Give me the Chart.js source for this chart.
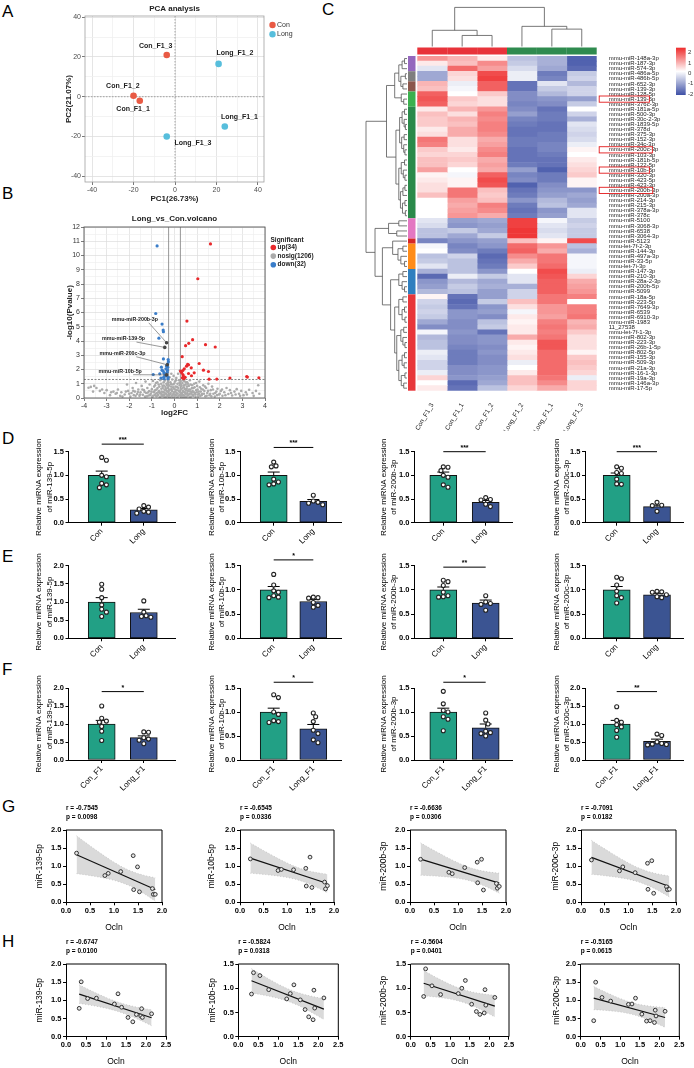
<!DOCTYPE html>
<html><head><meta charset="utf-8"><title>Figure</title>
<script src="https://cdn.jsdelivr.net/npm/chart.js@4.4.1/dist/chart.umd.min.js"></script>
<style>
html,body{margin:0;padding:0;background:#fff}
#root{position:relative;width:694px;height:1068px;overflow:hidden;background:#fff}
#root canvas{position:absolute;left:0;top:0}
.pl{position:absolute;font:17px/17px 'Liberation Sans',Arial,sans-serif;color:#000}
</style></head><body><div id="root">
<div class="pl" style="left:2px;top:3px">A</div>
<div class="pl" style="left:2px;top:185px">B</div>
<div class="pl" style="left:322px;top:1px">C</div>
<div class="pl" style="left:2px;top:430px">D</div>
<div class="pl" style="left:2px;top:548px">E</div>
<div class="pl" style="left:2px;top:661px">F</div>
<div class="pl" style="left:2px;top:798px">G</div>
<div class="pl" style="left:2px;top:933px">H</div>
</div>
<script>
// ================= DATA =================
// A: PCA
const pcaSamples=['Con_F1_1','Con_F1_2','Con_F1_3','Long_F1_1','Long_F1_2','Long_F1_3'];
const pcaGroup=['Con','Con','Con','Long','Long','Long'];
const pcaPC1=[-17,-20,-4,24,21,-4];
const pcaPC2=[-2,0.5,21,-15,16.5,-20];
const pcaTicks=[-40,-20,0,20,40];

// B: volcano
const volcUp=[[1.59,10.81],[1.03,8.37],[0.55,5.4],[0.8,4.09],[0.63,3.84],[0.49,3.67],[1.37,3.74],[1.8,3.58],[0.34,2.9],[1.09,2.42],[0.58,2.37],[0.62,2.33],[0.53,2.23],[0.74,2.12],[0.43,2.05],[0.37,1.93],[1.28,1.95],[1.5,1.86],[0.27,1.88],[0.31,1.79],[0.87,1.77],[0.62,1.72],[0.37,1.65],[0.39,1.55],[0.75,1.56],[0.35,1.42],[0.47,1.45],[2.45,1.4],[3.19,1.51],[3.22,1.47],[3.73,1.42],[1.87,1.33],[1.53,1.32],[0.41,1.35]];
const volcDown=[[-0.77,10.67],[-0.83,5.93],[-0.55,5.19],[-0.5,4.77],[-0.49,4.65],[-0.69,4.2],[-0.49,2.74],[-0.28,2.7],[-0.3,2.4],[-0.3,2.16],[-0.58,2.16],[-0.5,1.88],[-0.65,1.7],[-0.46,1.74],[-0.94,1.65],[-0.48,1.45],[-0.28,1.45],[-0.46,1.35],[-0.29,1.35],[-0.38,2.05],[-0.55,1.95],[-0.4,1.55],[-0.33,1.8],[-0.6,1.4],[-0.27,2.55],[-0.36,2.25],[-0.42,1.6],[-0.31,1.95]];
const volcNosig=[[-3.8,0.72],[-3.7,0.78],[-3.55,0.85],[-3.45,0.7],[-3.3,0.5],[-3.1,0.35],[-3.0,0.55],[-2.85,0.2],[-2.7,0.45],[-2.6,0.3],[-2.5,0.6],[-2.4,0.15],[-2.35,0.4],[-2.2,0.25],[-2.1,0.95],[-2.05,0.5],[-1.95,0.1],[-1.9,0.35],[-1.85,0.7],[-1.8,0.2],[-1.75,0.45],[-1.7,1.05],[-1.65,0.28],[-1.6,0.6],[-1.55,0.15],[-1.5,0.4],[-1.45,0.85],[-1.4,0.22],[-1.35,0.55],[-1.3,0.1],[-1.28,1.15],[-1.25,0.35],[-1.2,0.7],[-1.15,0.18],[-1.12,0.48],[-1.1,0.95],[-1.05,0.3],[-1.0,0.62],[-0.98,0.08],[-0.95,1.2],[-0.92,0.4],[-0.9,0.8],[-0.88,0.2],[-0.85,0.55],[-0.82,1.05],[-0.8,0.12],[-0.78,0.35],[-0.75,0.7],[-0.72,0.25],[-0.7,0.95],[-0.68,0.5],[-0.65,0.05],[-0.63,1.25],[-0.6,0.3],[-0.58,0.65],[-0.55,0.15],[-0.53,0.85],[-0.5,0.42],[-0.48,1.1],[-0.46,0.22],[-0.44,0.6],[-0.42,0.03],[-0.4,0.78],[-0.38,0.32],[-0.36,1.0],[-0.34,0.5],[-0.32,0.12],[-0.3,0.7],[-0.29,1.2],[-0.28,0.4],[-0.25,0.9],[-0.24,0.2],[-0.22,1.45],[-0.21,0.6],[-0.2,0.05],[-0.18,1.1],[-0.17,0.35],[-0.15,0.8],[-0.14,1.7],[-0.12,0.15],[-0.11,0.5],[-0.1,1.3],[-0.08,0.02],[-0.07,0.95],[-0.05,0.3],[-0.04,1.55],[-0.02,0.65],[0.0,0.1],[0.02,1.15],[0.03,0.45],[0.05,0.8],[0.06,0.2],[0.08,1.4],[0.1,0.55],[0.11,0.04],[0.13,1.0],[0.14,0.3],[0.16,1.7],[0.17,0.7],[0.19,0.15],[0.2,1.25],[0.21,0.45],[0.23,0.9],[0.24,1.95],[0.25,0.25],[0.27,1.15],[0.28,0.6],[0.3,0.1],[0.31,0.85],[0.33,0.35],[0.35,1.05],[0.37,0.5],[0.39,0.2],[0.41,0.75],[0.43,1.2],[0.45,0.4],[0.47,0.05],[0.49,0.95],[0.52,0.3],[0.54,0.65],[0.56,1.1],[0.58,0.18],[0.6,0.5],[0.63,0.85],[0.66,0.28],[0.68,1.25],[0.7,0.6],[0.73,0.1],[0.76,0.4],[0.78,0.9],[0.81,0.22],[0.84,0.7],[0.87,1.0],[0.9,0.35],[0.93,0.08],[0.96,0.55],[1.0,0.85],[1.03,0.25],[1.07,0.45],[1.1,1.15],[1.14,0.15],[1.18,0.65],[1.22,0.3],[1.27,0.9],[1.32,0.5],[1.36,0.12],[1.4,0.7],[1.45,0.35],[1.5,1.0],[1.55,0.2],[1.6,0.55],[1.66,0.8],[1.72,0.3],[1.78,0.1],[1.85,0.45],[1.9,0.65],[1.97,0.25],[2.05,0.5],[2.12,0.15],[2.2,0.4],[2.3,0.7],[2.38,0.28],[2.45,0.55],[2.55,0.18],[2.65,0.45],[2.75,0.62],[2.85,0.3],[2.95,0.5],[3.05,0.2],[3.15,0.4],[3.3,0.58],[3.45,0.35],[3.6,0.5],[3.7,0.9],[3.75,0.3],
[-0.95,0.15],[-0.9,0.45],[-0.86,0.9],[-0.83,0.3],[-0.79,0.6],[-0.76,1.1],[-0.74,0.18],[-0.71,0.42],[-0.67,0.8],[-0.64,0.35],[-0.62,0.1],[-0.59,1.0],[-0.57,0.45],[-0.54,0.25],[-0.52,0.7],[-0.49,0.12],[-0.47,0.88],[-0.45,0.38],[-0.43,1.22],[-0.41,0.55],[-0.39,0.08],[-0.37,0.65],[-0.35,0.25],[-0.33,0.92],[-0.31,0.45],[-0.3,1.05],[-0.28,0.18],[-0.27,0.8],[-0.26,1.28],[-0.23,0.52],[-0.19,0.28],[-0.16,0.98],[-0.13,0.62],[-0.09,0.2],[-0.06,0.75],[-0.03,0.4],[-0.01,1.02],[0.01,0.25],[0.04,0.6],[0.07,1.25],[0.09,0.35],[0.12,0.78],[0.15,0.1],[0.18,0.52],[0.22,1.05],[0.26,0.4],[0.29,0.95],[0.32,0.22],[0.34,0.68],[0.36,1.25],[0.38,0.05],[0.4,0.42],[0.42,0.9],[0.44,0.15],[0.46,0.62],[0.48,0.3],[0.5,1.1],[0.51,0.52],[0.53,0.08],[0.55,0.8],[0.57,0.35],[0.59,1.0],[0.61,0.2],[0.64,0.6],[0.67,0.05],[0.69,0.45],[0.71,0.95],[0.74,0.3],[0.77,0.7],[0.8,0.5],[0.83,0.15],[0.86,0.4],[0.89,0.75],[0.92,0.25],[0.95,1.05],[0.98,0.4],[1.02,0.6],[1.05,0.1],[1.09,0.3],[1.12,0.75],[1.16,0.45],[1.2,0.2],[1.25,0.6],[1.3,0.3],[1.35,0.8],[1.42,0.15],[1.48,0.5],[1.58,0.3],[1.63,0.12],[1.7,0.6],[1.8,0.35],[1.88,0.2],[2.0,0.3],[2.1,0.6],[2.25,0.2],[2.5,0.35],[2.7,0.25],[2.9,0.15],[3.2,0.25],[3.5,0.15],[-1.02,0.45],[-1.08,0.2],[-1.18,0.38],[-1.22,0.12],[-1.32,0.42],[-1.42,0.6],[-1.52,0.25],[-1.62,0.42],[-1.72,0.15],[-1.82,0.5],[-2.0,0.3],[-2.15,0.45],[-2.3,0.1],[-2.55,0.35],[-2.8,0.4],[-3.2,0.6],[-3.6,0.45]];
const volcLabelNames=['mmu-miR-200b-3p','mmu-miR-139-5p','mmu-miR-200c-3p','mmu-miR-10b-5p'];
const volcLabelPts=[[-0.35,3.88],[-0.43,3.55],[-0.32,2.33],[-0.35,1.62]];
const volcLegend=['up(34)','nosig(1206)','down(32)'];
const volcFcCut=0.26, volcPCut=1.3;

// C: heatmap
const hmCols=['Con_F1_3','Con_F1_1','Con_F1_2','Long_F1_2','Long_F1_1','Long_F1_3'];
const hmGroups=['Con','Con','Con','Long','Long','Long'];
const hmRows=['mmu-miR-148a-3p','mmu-miR-187-3p','mmu-miR-574-3p','mmu-miR-486a-5p','mmu-miR-486b-5p','mmu-miR-652-3p','mmu-miR-139-3p','mmu-miR-128-5p','mmu-miR-139-5p','mmu-miR-376c-3p','mmu-miR-181a-5p','mmu-miR-500-3p','mmu-miR-30c-2-3p','mmu-miR-1839-5p','mmu-miR-378d','mmu-miR-375-3p','mmu-miR-152-3p','mmu-miR-34c-3p','mmu-miR-200c-3p','mmu-miR-103-3p','mmu-miR-181b-5p','mmu-miR-122-5p','mmu-miR-10b-5p','mmu-miR-320-3p','mmu-miR-423-5p','mmu-miR-423-3p','mmu-miR-200b-3p','mmu-miR-200a-3p','mmu-miR-214-3p','mmu-miR-215-3p','mmu-miR-378a-3p','mmu-miR-378c','mmu-miR-5100','mmu-miR-3068-3p','mmu-miR-6538','mmu-miR-3064-3p','mmu-miR-5123','mmu-let-7f-2-3p','mmu-miR-144-3p','mmu-miR-497a-3p','mmu-miR-33-5p','mmu-let-7i-3p','mmu-miR-147-3p','mmu-miR-210-3p','mmu-miR-28a-2-3p','mmu-miR-200b-5p','mmu-miR-5099','mmu-miR-18a-5p','mmu-miR-223-5p','mmu-miR-7649-3p','mmu-miR-6539','mmu-miR-6910-3p','mmu-miR-1983','11_27538','mmu-let-7f-1-3p','mmu-miR-802-3p','mmu-miR-223-3p','mmu-miR-26b-1-5p','mmu-miR-802-5p','mmu-miR-155-3p','mmu-miR-509-3p','mmu-miR-21a-3p','mmu-miR-16-1-3p','mmu-miR-19a-3p','mmu-miR-146a-3p','mmu-miR-17-5p'];
const hmVals=[[1.0,0.7,0.2,-0.7,-0.9,-1.8],[0.2,0.6,1.1,-0.6,-0.9,-1.8],[-0.3,1.4,0.9,-0.4,-1.0,-1.7],[-1.0,0.4,1.7,-0.2,-1.5,-0.6],[-1.0,0.3,1.8,-0.2,-1.4,-0.5],[0.7,-0.2,1.5,-1.6,-0.3,-0.8],[0.6,-0.1,1.5,-1.6,-0.6,-0.5],[1.5,0.0,0.5,-1.3,-0.8,-0.5],[1.6,0.5,0.3,-1.3,-1.2,-1.1],[1.5,0.4,0.3,-1.4,-1.3,-0.6],[0.2,0.7,1.0,-1.3,-1.6,0.0],[0.6,0.3,1.2,-1.1,-1.5,-0.5],[0.5,0.7,1.1,-1.4,-1.5,-0.9],[0.5,0.6,1.2,-1.5,-1.6,-0.3],[0.2,0.8,1.2,-1.6,-1.6,-0.4],[0.3,0.8,1.1,-1.6,-1.5,-0.5],[1.3,0.3,0.8,-1.5,-1.5,-0.4],[1.2,0.3,0.9,-1.5,-1.4,-0.2],[0.5,0.2,1.1,-1.6,-1.4,0.1],[0.4,0.4,1.2,-1.6,-1.5,0.0],[0.6,0.5,0.8,-1.6,-1.6,0.2],[0.6,0.4,0.9,-1.5,-1.6,0.3],[0.9,0.0,0.8,-1.1,-1.8,0.4],[0.1,-0.1,1.5,-1.4,-1.5,0.5],[0.2,0.1,1.7,-1.3,-1.5,0.1],[0.3,0.1,1.6,-1.8,-1.3,0.1],[0.3,1.3,0.6,-1.6,-1.2,-1.2],[0.6,1.3,0.5,-1.5,-1.1,-1.0],[0.0,0.9,0.6,-1.2,-0.8,-1.1],[0.0,0.8,1.2,-1.5,-0.7,-1.0],[0.0,0.9,1.1,-1.6,-1.2,-0.3],[0.0,1.0,0.8,-1.5,-1.1,-0.3],[-0.3,-1.1,-1.0,1.8,-0.1,-0.6],[-0.4,-1.2,-1.1,1.8,-0.3,-0.5],[-0.7,-0.6,-1.0,1.9,-0.4,-0.6],[-0.7,-1.0,-0.6,1.9,-0.3,-0.6],[-1.4,-1.2,-1.1,0.6,0.1,1.7],[-0.1,-1.4,-1.2,1.4,1.0,-0.7],[0.0,-1.3,-1.5,1.5,0.8,-0.9],[-0.7,-0.5,-1.7,1.1,1.3,-0.1],[-0.6,-0.7,-1.6,0.8,1.3,-0.1],[-0.3,-0.7,-1.5,0.5,1.4,-0.1],[-0.9,-0.7,-1.2,0.0,1.7,-0.2],[-1.7,-0.2,-0.6,-0.3,1.6,0.4],[-1.2,-0.8,-1.0,-0.3,1.5,0.8],[-1.1,-0.6,-0.9,-0.9,1.5,0.9],[-0.8,-0.7,-1.1,-0.5,1.5,1.0],[0.1,-1.6,-1.1,-0.5,1.3,1.2],[-0.5,-1.7,-0.6,0.6,1.3,0.0],[-0.6,-1.6,-1.2,0.3,1.0,1.2],[-0.5,-1.2,-1.1,-0.1,1.0,1.2],[-0.6,-1.2,-1.3,0.2,0.9,1.3],[-1.0,-1.3,-0.7,0.1,1.2,0.7],[-1.3,-1.3,-0.6,0.2,1.3,0.8],[-0.1,-1.2,-1.6,0.2,1.2,0.5],[-0.8,-1.3,-1.2,0.8,1.3,0.3],[-0.7,-1.3,-1.2,0.2,1.6,0.3],[-0.7,-1.4,-1.3,0.1,1.6,0.3],[-0.2,-1.5,-1.2,0.2,1.4,0.1],[-0.3,-1.5,-1.3,0.3,1.4,0.5],[-0.5,-1.5,-1.3,-0.2,1.4,0.6],[-0.5,-1.3,-1.2,0.0,1.4,0.5],[-0.2,-1.3,-1.2,0.2,1.4,0.4],[0.4,-1.2,-1.1,0.6,1.3,-0.2],[0.0,-1.7,-1.0,0.6,1.1,0.4],[0.2,-1.6,-0.7,0.4,0.8,0.4]];
const hmClusterSizes=[3,2,2,3,22,4,1,5,5,19];
const hmBoxed=['mmu-miR-139-5p','mmu-miR-200c-3p','mmu-miR-10b-5p','mmu-miR-200b-3p'];
const hmLegendTicks=[2,1,0,-1,-2];
const hmColTree=[0.99,[0.41,0,[0.28,1,2]],[0.51,3,[0.44,4,5]]];
const hmRowTree=[1.0,
 [0.5,
  [0.3,[0.2,[0.12,[0.06,0,1],2],[0.15,[0.04,3,4],[0.1,5,6]]],[0.14,7,[0.08,8,9]]],
  [0.27,[0.18,[0.12,[0.06,10,11],[0.07,12,[0.04,13,14]]],[0.13,[0.07,15,16],[0.08,17,[0.05,18,19]]]],
        [0.2,[0.14,[0.06,20,21],[0.09,22,[0.05,23,24]]],[0.16,[0.1,[0.05,25,26],27],[0.11,[0.05,28,29],[0.04,30,31]]]]]],
 [0.78,
  [0.45,[0.2,32,33],[0.25,34,35]],
  [0.6,[0.35,36,[0.22,[0.1,37,38],[0.15,39,[0.06,40,41]]]],
       [0.4,[0.2,[0.1,42,43],[0.12,44,[0.06,45,46]]],
            [0.3,[0.2,[0.1,47,48],[0.12,[0.06,49,50],[0.05,51,52]]],[0.25,[0.15,[0.08,53,54],[0.1,55,[0.05,56,57]]],[0.2,[0.12,[0.06,58,59],[0.07,60,61]],[0.14,[0.05,62,63],[0.08,64,65]]]]]]]]];

// D/E/F: qPCR bars
const genes=['miR-139-5p','miR-10b-5p','miR-200b-3p','miR-200c-3p'];
const dLabels=['Con','Long'], eLabels=['Con','Long'], fLabels=['Con_F1','Long_F1'];
const dCon=[[1.38,1.32,1.0,0.97,0.83,0.80,0.74],[1.28,1.20,1.18,0.92,0.86,0.82,0.80],[1.18,1.17,1.10,1.00,0.96,0.80,0.75],[1.18,1.15,1.06,1.04,0.92,0.82,0.81]];
const dLong=[[0.36,0.33,0.29,0.24,0.22,0.20],[0.58,0.46,0.43,0.41,0.38],[0.53,0.49,0.48,0.39,0.34],[0.43,0.37,0.36,0.24]];
const dMean=[[1.0,0.27],[1.0,0.45],[1.0,0.43],[1.0,0.34]];
const dSem=[[0.09,0.03],[0.07,0.04],[0.07,0.04],[0.05,0.03]];
const dSig=['***','***','***','***'];
const dYmax=[1.5,1.5,1.5,1.5];
const eCon=[[1.49,1.35,1.12,0.92,0.80,0.72,0.60],[1.32,1.10,0.98,0.95,0.88,0.85,0.84],[1.20,1.17,1.09,0.95,0.88,0.86,0.85],[1.26,1.23,1.10,0.97,0.88,0.84,0.73]];
const eLong=[[1.03,0.72,0.62,0.60,0.58],[0.85,0.84,0.83,0.74,0.68,0.64],[0.88,0.75,0.72,0.70,0.58],[0.97,0.96,0.95,0.90,0.86,0.84]];
const eMean=[[1.0,0.71],[1.0,0.76],[1.0,0.73],[1.0,0.90]];
const eSem=[[0.12,0.09],[0.07,0.04],[0.06,0.06],[0.07,0.03]];
const eSig=['','*','**',''];
const eYmax=[2.0,1.5,1.5,1.5];
const fCon=[[1.50,1.16,1.08,1.05,0.93,0.80,0.54],[1.36,1.30,1.00,0.95,0.82,0.80,0.78],[1.43,1.17,1.03,1.00,0.90,0.85,0.61],[1.48,1.10,1.05,0.98,0.92,0.82,0.63]];
const fLong=[[0.78,0.77,0.62,0.58,0.55,0.45],[0.98,0.90,0.80,0.62,0.55,0.42,0.36],[0.98,0.83,0.75,0.60,0.57,0.55,0.50],[0.72,0.68,0.50,0.46,0.44,0.43,0.42]];
const fMean=[[1.0,0.62],[1.0,0.65],[1.0,0.67],[1.0,0.52]];
const fSem=[[0.10,0.05],[0.08,0.09],[0.08,0.08],[0.10,0.06]];
const fSig=['*','*','*','**'];
const fYmax=[2.0,1.5,1.5,2.0];

// G/H correlations
const gOcln=[0.22,0.81,0.88,1.14,1.40,1.41,1.49,1.53,1.80,1.82,1.86];
const gMir=[[1.36,0.74,0.80,0.85,1.29,0.35,0.98,0.29,0.38,0.22,0.22],[1.20,0.88,0.91,0.90,0.94,0.45,1.25,0.41,0.56,0.37,0.46],[1.19,0.83,0.79,0.96,1.11,0.54,1.19,0.34,0.52,0.39,0.44],[1.17,0.87,0.98,0.82,1.08,0.36,1.15,0.25,0.43,0.35,0.36]];
const gR=['-0.7545','-0.6545','-0.6636','-0.7091'], gP=['0.0098','0.0336','0.0306','0.0182'];
const gYmax=[2.0,2.0,2.0,2.0], gXmax=2.0;
const hOcln=[0.33,0.38,0.54,0.76,1.21,1.30,1.39,1.55,1.67,1.76,1.87,1.89,1.91,2.14];
const hMir=[[0.78,1.51,1.05,1.06,0.90,1.18,0.81,0.53,0.41,0.61,0.57,0.77,0.53,0.63],[0.88,1.32,1.26,0.97,0.78,0.89,1.07,0.76,0.56,0.41,0.35,0.96,0.59,0.80],[0.83,1.40,1.05,0.87,0.89,1.00,1.16,0.67,0.52,0.46,0.49,0.97,0.65,0.81],[0.44,1.50,1.08,0.98,0.89,0.90,1.06,0.62,0.43,0.44,0.39,0.73,0.57,0.70]];
const hR=['-0.6747','-0.5824','-0.5604','-0.5165'], hP=['0.0100','0.0318','0.0401','0.0615'];
const hYmax=[2.0,1.5,1.5,2.0], hXmax=2.5;
const T975={8:2.306,9:2.262,10:2.228,11:2.201,12:2.179,13:2.160};

// ================= STYLE / LAYOUT =================
const FF="'Liberation Sans', Arial, Helvetica, sans-serif";
const C_CON='#E95A44', C_LONG='#57BEDC';
const C_UP='#E8292C', C_DOWN='#3A7DC9', C_NS='#ABABAB', C_LAB='#444';
const C_BAR=['#22A085','#3B5492'];
const C_HM_GRP={Con:'#E8333A',Long:'#2F8B4F'};
const HM_CLUSTER_COLORS=['#9467BD','#7F7F7F','#8C564B','#3BB04E','#2A8A4A','#E377C2','#D62728','#FF8C1A','#2F7FBF','#E8363A'];
const W=694,H=1068;
const barX=[{l:68.5,r:175,c1:101.7,c2:143.8,t1:39,t2:49.5},{l:240,r:341.7,c1:273.7,c2:313.3,t1:211.5,t2:222},{l:414,r:512.7,c1:443.3,c2:485.7,t1:383.5,t2:394},{l:585,r:683.3,c1:616.7,c2:657,t1:556.5,t2:567}];
const rowsY={D:{t:451.7,b:522.7},E:{t:565.7,b:638.3},F:{t:688,b:760}};
const sigYD=[1.66,1.59,1.5,1.5], sigYE=[0,1.62,1.47,0], sigYF=[1.9,1.62,1.62,1.9];
const gX=[{l:66,r:162,tx:39.5},{l:240,r:334,tx:212},{l:410,r:506,tx:383.5},{l:581,r:676,tx:555.5}];
const hX=[{l:66,r:166,tx:40},{l:238.3,r:338.3,tx:213},{l:410.7,r:509,tx:383.5},{l:580.7,r:679.3,tx:556.5}];
const gY={t:830,b:902.3}, hY={t:964,b:1036.7};
const pcaLabelOff={Con_F1_1:[-6.7,8.3],Con_F1_2:[-10.7,-9.7],Con_F1_3:[-11,-9],Long_F1_1:[14.7,-9],Long_F1_2:[16.3,-11.3],Long_F1_3:[26.3,7]};
const volcLabelPos=[[-1.75,5.5],[-2.25,4.15],[-2.3,3.12],[-2.4,1.86]];

Chart.defaults.font.family=FF;
Chart.defaults.color='#000';
const root=document.getElementById('root');
function cnv(){const c=document.createElement('canvas');c.width=W;c.height=H;c.style.width=W+'px';c.style.height=H+'px';root.appendChild(c);return c;}
function pad(l,t,r,b,lw,bh,rw){return{left:l-lw,top:t,right:W-r-rw,bottom:H-b-bh};}
function base(p){return{responsive:false,maintainAspectRatio:false,animation:false,devicePixelRatio:1,events:[],layout:{padding:p},plugins:{legend:{display:false},tooltip:{enabled:false},title:{display:false}}};}
function rng(a,b,s){const o=[];for(let k=0;a+k*s<=b+1e-9;k++)o.push(Math.round((a+k*s)*1000)/1000);return o;}
function fnt(sz,w){return (w||'normal')+' '+sz+'px '+FF;}
function txt(ctx,s,x,y,font,o){o=o||{};ctx.save();ctx.font=font;ctx.fillStyle=o.c||'#000';ctx.textAlign=o.a||'center';ctx.textBaseline=o.b||'middle';ctx.translate(x,y);if(o.r)ctx.rotate(o.r);ctx.fillText(s,0,0);ctx.restore();}
function line(ctx,x0,y0,x1,y1,c,w,dash){ctx.save();ctx.strokeStyle=c;ctx.lineWidth=w;if(dash)ctx.setLineDash(dash);ctx.beginPath();ctx.moveTo(x0,y0);ctx.lineTo(x1,y1);ctx.stroke();ctx.restore();}
function dot(ctx,x,y,r,c){ctx.save();ctx.fillStyle=c;ctx.beginPath();ctx.arc(x,y,r,0,Math.PI*2);ctx.fill();ctx.restore();}
const HP=-Math.PI/2;

// ================= A: PCA =================
(function(){
 const A={l:85,t:16,r:264,b:182};
 const major=v=>pcaTicks.includes(v);
 const sets=['Con','Long'].map(g=>({data:pcaSamples.map((n,i)=>({x:pcaPC1[i],y:pcaPC2[i],n:n,g:pcaGroup[i]})).filter(p=>p.g===g),pointRadius:3.3,pointBackgroundColor:g==='Con'?C_CON:C_LONG,pointBorderWidth:0}));
 const ax=(mn,mx,isX)=>({type:'linear',min:mn,max:mx,afterBuildTicks:s=>{s.ticks=rng(-40,40,10).map(v=>({value:v}));},afterFit:s=>{if(isX)s.height=25;else s.width=25;},
   ticks:{callback:v=>major(v)?String(v):'',autoSkip:false,maxRotation:0,font:{size:7},color:'#4d4d4d',padding:1},
   grid:{color:c=>(c.tick&&major(c.tick.value))?'#dedede':'#f0f0f0',tickColor:c=>(c.tick&&major(c.tick.value))?'#555':'rgba(0,0,0,0)',lineWidth:0.8,tickLength:3},border:{display:false}});
 const o=base(pad(A.l,A.t,A.r,A.b,25,25,0));
 o.scales={x:ax(-43.4,42.9,true),y:ax(-42.9,40.6,false)};
 new Chart(cnv(),{type:'scatter',data:{datasets:sets},options:o,plugins:[{id:'pcadeco',
  beforeDatasetsDraw(ch){const c=ch.ctx,a=ch.chartArea,x0=ch.scales.x.getPixelForValue(0),y0=ch.scales.y.getPixelForValue(0);
   line(c,x0,a.top,x0,a.bottom,'#999',0.9,[1.5,1.5]);line(c,a.left,y0,a.right,y0,'#999',0.9,[1.5,1.5]);},
  afterDraw(ch){const c=ch.ctx,a=ch.chartArea;
   c.save();c.strokeStyle='#a0a0a0';c.lineWidth=0.8;c.strokeRect(a.left,a.top,a.right-a.left,a.bottom-a.top);c.restore();
   ch.data.datasets.forEach((ds,di)=>{ch.getDatasetMeta(di).data.forEach((el,k)=>{const n=ds.data[k].n,off=pcaLabelOff[n];txt(c,n,el.x+off[0],el.y+off[1],fnt(7,'bold'),{c:'#222'});});});
   txt(c,'PCA analysis',(a.left+a.right)/2,9,fnt(8,'bold'),{c:'#222'});
   txt(c,'PC1(26.73%)',(a.left+a.right)/2,199,fnt(8,'bold'),{c:'#222'});
   txt(c,'PC2(21.07%)',69,(a.top+a.bottom)/2,fnt(8,'bold'),{c:'#222',r:HP});
   ['Con','Long'].forEach((g,i)=>{dot(c,272.5,25+i*9.3,3.2,g==='Con'?C_CON:C_LONG);txt(c,g,277,25+i*9.3,fnt(7),{a:'left',c:'#333'});});
  }}]});
})();

// ================= B: Volcano =================
(function(){
 const A={l:84,t:227,r:265,b:398};
 const P=a=>a.map(p=>({x:p[0],y:p[1]}));
 const isInt=v=>Math.abs(v-Math.round(v))<1e-6;
 const ax=(mn,mx,isX)=>({type:'linear',min:mn,max:mx,afterBuildTicks:s=>{s.ticks=rng(mn,mx,0.5).map(v=>({value:v}));},afterFit:s=>{if(isX)s.height=20;else s.width=20;},
   ticks:{callback:v=>isInt(v)?String(Math.round(v)):'',autoSkip:false,maxRotation:0,font:{size:7},color:'#333',padding:1},
   grid:{color:c=>(c.tick&&isInt(c.tick.value))?'#dcdcdc':'#efefef',tickColor:c=>(c.tick&&isInt(c.tick.value))?'#444':'rgba(0,0,0,0)',lineWidth:0.7,tickLength:3},border:{display:false}});
 const o=base(pad(A.l,A.t,A.r,A.b,20,20,0));
 o.scales={x:ax(-4,4,true),y:ax(0,12,false)};
 new Chart(cnv(),{type:'scatter',data:{datasets:[
   {data:P(volcNosig),order:4,pointRadius:1.3,pointBackgroundColor:C_NS,pointBorderWidth:0},
   {data:P(volcUp),order:3,pointRadius:1.6,pointBackgroundColor:C_UP,pointBorderWidth:0},
   {data:P(volcDown),order:2,pointRadius:1.6,pointBackgroundColor:C_DOWN,pointBorderWidth:0},
   {data:P(volcLabelPts),order:1,pointRadius:1.8,pointBackgroundColor:C_LAB,pointBorderWidth:0}]},options:o,plugins:[{id:'vdeco',
  beforeDatasetsDraw(ch){const c=ch.ctx,a=ch.chartArea,xs=ch.scales.x,ys=ch.scales.y;
   [-volcFcCut,volcFcCut].forEach(v=>{const x=xs.getPixelForValue(v);line(c,x,a.top,x,a.bottom,'#8a8a8a',0.9);});
   const y=ys.getPixelForValue(volcPCut);line(c,a.left,y,a.right,y,'#666',0.8,[2,1.5]);},
  afterDraw(ch){const c=ch.ctx,a=ch.chartArea,xs=ch.scales.x,ys=ch.scales.y;
   c.save();c.strokeStyle='#555';c.lineWidth=0.9;c.strokeRect(a.left,a.top,a.right-a.left,a.bottom-a.top);c.restore();
   volcLabelNames.forEach((n,i)=>{const lx=xs.getPixelForValue(volcLabelPos[i][0]),ly=ys.getPixelForValue(volcLabelPos[i][1]);
     c.font=fnt(5.3,'bold');const w=c.measureText(n).width;
     const px=xs.getPixelForValue(volcLabelPts[i][0]),py=ys.getPixelForValue(volcLabelPts[i][1]);
     line(c,lx+w*0.3,ly+3.2,px,py,'#555',0.6);
     txt(c,n,lx,ly,fnt(5.3,'bold'),{c:'#222'});});
   txt(c,'Long_vs_Con.volcano',(a.left+a.right)/2,219,fnt(8,'bold'),{c:'#222'});
   txt(c,'log2FC',(a.left+a.right)/2,413,fnt(8,'bold'),{c:'#222'});
   txt(c,'-log10(Pvalue)',70,(a.top+a.bottom)/2,fnt(8,'bold'),{c:'#222',r:HP});
   txt(c,'Significant',270.5,240,fnt(6.5,'bold'),{a:'left',c:'#222'});
   [C_UP,C_NS,C_DOWN].forEach((col,i)=>{const y=247.5+i*8.6;dot(c,273.3,y,2.8,col);txt(c,volcLegend[i],277.5,y,fnt(6.5,'bold'),{a:'left',c:'#222'});});
  }}]});
})();

// ================= C: Heatmap =================
function hmColor(v){v=Math.max(-2,Math.min(2,v));const t=Math.abs(v)/2;const c=v<0?[62,80,166]:[238,44,44];
 return 'rgb('+c.map(k=>Math.round(255+(k-255)*t)).join(',')+')';}
(function(){
 const A={l:417.3,t:56,r:596.7,b:390.7};
 const o=base(pad(A.l,A.t,A.r,A.b,0,40,80));
 o.indexAxis='y';
 o.scales={
  x:{type:'linear',position:'bottom',min:0,max:6,afterBuildTicks:s=>{s.ticks=rng(0.5,5.5,1).map(v=>({value:v}));},afterFit:s=>{s.height=40;},
     ticks:{callback:v=>hmCols[Math.floor(v)],minRotation:60,maxRotation:60,autoSkip:false,font:{size:6.5},color:'#222',padding:3},grid:{display:false},border:{display:false}},
  y:{type:'category',position:'right',offset:true,afterFit:s=>{s.width=80;},ticks:{autoSkip:false,font:{size:6,lineHeight:1},color:'#222',padding:4},grid:{display:false},border:{display:false}}};
 new Chart(cnv(),{type:'bar',data:{labels:hmRows,datasets:hmCols.map((cn,j)=>({data:hmRows.map(()=>[j,j+1]),backgroundColor:hmVals.map(r=>hmColor(r[j])),borderWidth:0,grouped:false,barPercentage:1,categoryPercentage:1}))},options:o,plugins:[{id:'hmdeco',
  afterDraw(ch){const c=ch.ctx,a=ch.chartArea,xs=ch.scales.x,ys=ch.scales.y;const rowH=(a.bottom-a.top)/hmRows.length;
   hmGroups.forEach((g,j)=>{c.fillStyle=C_HM_GRP[g];const x0=xs.getPixelForValue(j),x1=xs.getPixelForValue(j+1);c.fillRect(x0,47.5,x1-x0,7);});
   let r0=0;hmClusterSizes.forEach((n,k)=>{c.fillStyle=HM_CLUSTER_COLORS[k];const y0=ys.getPixelForValue(r0)-rowH/2,y1=ys.getPixelForValue(r0+n-1)+rowH/2;c.fillRect(408,y0,7.5,y1-y0);r0+=n;});
   c.save();c.strokeStyle='#555';c.lineWidth=0.8;
   const rx=h=>407-h*41;
   const rowD=nd=>{if(typeof nd==='number')return{p:ys.getPixelForValue(nd),h:0};const p=rowD(nd[1]),q=rowD(nd[2]),x=rx(nd[0]);
     c.beginPath();c.moveTo(rx(p.h),p.p);c.lineTo(x,p.p);c.lineTo(x,q.p);c.lineTo(rx(q.h),q.p);c.stroke();return{p:(p.p+q.p)/2,h:nd[0]};};
   rowD(hmRowTree);
   const cy=h=>46.5-h*39.5;
   const colD=nd=>{if(typeof nd==='number')return{p:xs.getPixelForValue(nd+0.5),h:0};const p=colD(nd[1]),q=colD(nd[2]),y=cy(nd[0]);
     c.beginPath();c.moveTo(p.p,cy(p.h));c.lineTo(p.p,y);c.lineTo(q.p,y);c.lineTo(q.p,cy(q.h));c.stroke();return{p:(p.p+q.p)/2,h:nd[0]};};
   colD(hmColTree);c.restore();
   c.save();c.font=fnt(6);c.strokeStyle='#E31A1C';c.lineWidth=0.9;
   hmBoxed.forEach(n=>{const i=hmRows.indexOf(n);const y=ys.getPixelForValue(i);const w=c.measureText(n).width;c.strokeRect(a.right+2.5,y-3.1,w+3.5,6.2);});c.restore();
   const g=c.createLinearGradient(0,47.7,0,95);g.addColorStop(0,hmColor(2));g.addColorStop(0.5,hmColor(0));g.addColorStop(1,hmColor(-2));
   c.fillStyle=g;c.fillRect(676,47.7,9.7,47.3);
   hmLegendTicks.forEach(v=>{txt(c,String(v),688,52.7+(2-v)*(94-52.7)/4,fnt(6),{a:'left',c:'#333'});});
  }}]});
})();

// ================= D/E/F: Bars =================
function swarm(vals,pxY,r){const out=new Array(vals.length),placed=[];
 const idx=vals.map((v,i)=>i).sort((a,b)=>vals[b]-vals[a]);
 idx.forEach(i=>{const y=vals[i]*pxY;for(let k=0;k<24;k++){const cc=(k%2?1:-1)*Math.ceil(k/2)*r;
   if(placed.every(p=>Math.hypot(p.x-cc,p.y-y)>=2*r-0.4)){out[i]=cc;placed.push({x:cc,y:y});break;}}});
 return out;}
function makeBar(L,Y,d){
 const YW=30,XH=45,pxX=L.c2-L.c1;
 const xmin=1-(L.c1-L.l)/pxX,xmax=2+(L.r-L.c2)/pxX,pxY=(Y.b-Y.t)/d.ymax;
 const dots=[];[d.con,d.long].forEach((arr,gi)=>{const off=swarm(arr,pxY,2.35);arr.forEach((v,k)=>dots.push({x:gi+1+off[k]/pxX,y:v}));});
 const yt=rng(0,d.ymax,0.5);
 const o=base(pad(L.l,Y.t,L.r,Y.b,YW,XH,0));
 o.scales={
  x:{type:'linear',min:xmin,max:xmax,offset:false,afterBuildTicks:s=>{s.ticks=[{value:1},{value:2}];},afterFit:s=>{s.height=XH;},
     ticks:{callback:v=>d.xl[Math.round(v)-1],minRotation:45,maxRotation:45,autoSkip:false,font:{size:8},color:'#000',padding:1},
     grid:{offset:false,drawOnChartArea:false,color:'#000',tickLength:3,lineWidth:1},border:{color:'#000',width:1}},
  y:{type:'linear',min:0,max:d.ymax,afterBuildTicks:s=>{s.ticks=yt.map(v=>({value:v}));},afterFit:s=>{s.width=YW;},
     ticks:{callback:v=>Number(v).toFixed(1),font:{size:7.5,weight:'bold'},color:'#000',padding:1.5,autoSkip:false},
     grid:{drawOnChartArea:false,color:'#000',tickLength:3,lineWidth:1},border:{color:'#000',width:1}}};
 new Chart(cnv(),{type:'bar',data:{datasets:[
   {type:'scatter',data:dots,order:1,pointRadius:2,pointBackgroundColor:'#fff',pointBorderColor:'#222',pointBorderWidth:1.1,clip:false},
   {type:'bar',data:[{x:1,y:d.mean[0]},{x:2,y:d.mean[1]}],order:2,backgroundColor:C_BAR,borderColor:'#111',borderWidth:1,borderSkipped:false,barThickness:27}]},
  options:o,plugins:[{id:'bdeco',
   afterDatasetDraw(ch,args){if(args.meta.type!=='bar')return;const c=ch.ctx,xs=ch.scales.x,ys=ch.scales.y;
     [0,1].forEach(i=>{const x=xs.getPixelForValue(i+1),y0=ys.getPixelForValue(d.mean[i]),y1=ys.getPixelForValue(d.mean[i]+d.sem[i]);
       line(c,x,y0,x,y1,'#000',1);line(c,x-6,y1,x+6,y1,'#000',1);});},
   afterDraw(ch){const c=ch.ctx,a=ch.chartArea,xs=ch.scales.x,ys=ch.scales.y,cy=(a.top+a.bottom)/2;
     txt(c,'Relative miRNA expression',L.t1,cy,fnt(8),{r:HP});
     txt(c,'of '+d.gene,L.t2,cy,fnt(8),{r:HP});
     if(d.sig){const y=ys.getPixelForValue(d.sigY);line(c,xs.getPixelForValue(1),y,xs.getPixelForValue(2),y,'#000',1);
       txt(c,d.sig,(xs.getPixelForValue(1)+xs.getPixelForValue(2))/2,y-4,fnt(7,'bold'));}
   }}]});
}
genes.forEach((g,i)=>{
 makeBar(barX[i],rowsY.D,{gene:g,xl:dLabels,con:dCon[i],long:dLong[i],mean:dMean[i],sem:dSem[i],sig:dSig[i],sigY:sigYD[i],ymax:dYmax[i]});
 makeBar(barX[i],rowsY.E,{gene:g,xl:eLabels,con:eCon[i],long:eLong[i],mean:eMean[i],sem:eSem[i],sig:eSig[i],sigY:sigYE[i],ymax:eYmax[i]});
 makeBar(barX[i],rowsY.F,{gene:g,xl:fLabels,con:fCon[i],long:fLong[i],mean:fMean[i],sem:fSem[i],sig:fSig[i],sigY:sigYF[i],ymax:fYmax[i]});
});

// ================= G/H: Correlations =================
function makeCorr(L,Y,xv,yv,d){
 const n=xv.length,mx=xv.reduce((s,v)=>s+v,0)/n,my=yv.reduce((s,v)=>s+v,0)/n;
 let sxx=0,sxy=0;for(let i=0;i<n;i++){sxx+=(xv[i]-mx)**2;sxy+=(xv[i]-mx)*(yv[i]-my);}
 const b=sxy/sxx,a0=my-b*mx;let sse=0;for(let i=0;i<n;i++)sse+=(yv[i]-a0-b*xv[i])**2;
 const s=Math.sqrt(sse/(n-2)),t=T975[n-2]||2.2;
 const x0=Math.min(...xv),x1=Math.max(...xv);
 const xs=[];for(let k=0;k<=40;k++)xs.push(x0+(x1-x0)*k/40);
 const hw=x=>t*s*Math.sqrt(1/n+(x-mx)**2/sxx);
 const up=xs.map(x=>({x:x,y:a0+b*x+hw(x)})),lo=xs.map(x=>({x:x,y:a0+b*x-hw(x)}));
 const YW=30,XH=30;
 const o=base(pad(L.l,Y.t,L.r,Y.b,YW,XH,0));
 const ax=(mx2,isX)=>({type:'linear',min:0,max:mx2,afterBuildTicks:sc=>{sc.ticks=rng(0,mx2,0.5).map(v=>({value:v}));},afterFit:sc=>{if(isX)sc.height=XH;else sc.width=YW;},
   ticks:{callback:v=>Number(v).toFixed(1),font:{size:7.5,weight:'bold'},color:'#000',padding:isX?1:1.5,autoSkip:false,maxRotation:0},
   grid:{drawOnChartArea:false,color:'#000',tickLength:3,lineWidth:1},border:{color:'#000',width:1}});
 o.scales={x:ax(d.xmax,true),y:ax(d.ymax,false)};
 new Chart(cnv(),{type:'scatter',data:{datasets:[
   {data:xv.map((x,i)=>({x:x,y:yv[i]})),order:1,pointRadius:1.9,pointBackgroundColor:'#e6e6e6',pointBorderColor:'#333',pointBorderWidth:1},
   {type:'line',data:[{x:x0,y:a0+b*x0},{x:x1,y:a0+b*x1}],order:2,borderColor:'#111',borderWidth:1.2,pointRadius:0,fill:false},
   {type:'line',data:up,order:4,borderColor:'#b0b0b0',borderWidth:0.6,borderDash:[1,2],pointRadius:0,fill:'+1',backgroundColor:'rgba(214,214,214,0.9)'},
   {type:'line',data:lo,order:3,borderColor:'#b0b0b0',borderWidth:0.6,borderDash:[1,2],pointRadius:0,fill:false}]},
  options:o,plugins:[{id:'cdeco',afterDraw(ch){const c=ch.ctx,a=ch.chartArea;
    line(c,a.left,a.top,a.right,a.top,'#000',1);line(c,a.right,a.top,a.right,a.bottom,'#000',1);
    txt(c,'r = '+d.r,a.left,a.top-22,fnt(6.5,'bold'),{a:'left'});
    txt(c,'p = '+d.p,a.left,a.top-13,fnt(6.5,'bold'),{a:'left'});
    txt(c,d.gene,L.tx,(a.top+a.bottom)/2,fnt(8.5),{r:HP});
    txt(c,'Ocln',(a.left+a.right)/2,a.bottom+25,fnt(8.5));
  }}]});
}
genes.forEach((g,i)=>{
 makeCorr(gX[i],gY,gOcln,gMir[i],{gene:g,r:gR[i],p:gP[i],xmax:gXmax,ymax:gYmax[i]});
 makeCorr(hX[i],hY,hOcln,hMir[i],{gene:g,r:hR[i],p:hP[i],xmax:hXmax,ymax:hYmax[i]});
});
</script></body></html>
